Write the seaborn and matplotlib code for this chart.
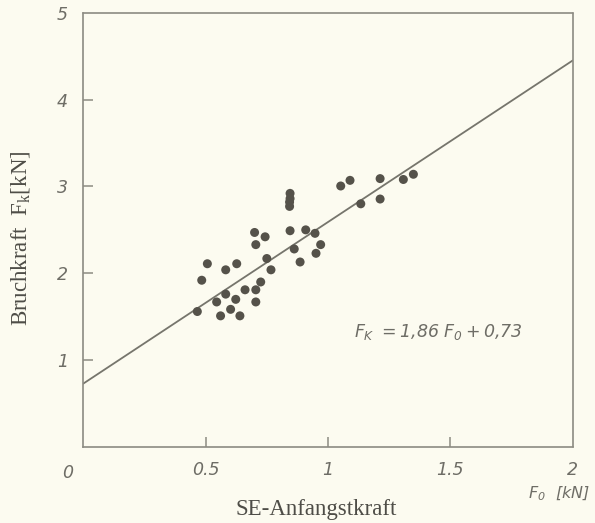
import numpy as np
import pandas as pd
import matplotlib
matplotlib.use("Agg")
import matplotlib.pyplot as plt
import seaborn as sns

# Measured initial force F0 [kN] and breaking force Fk [kN]
f0 = [0.705, 0.750, 0.767, 0.507, 0.627, 0.582, 0.484, 0.725, 0.705, 0.661,
      0.582, 0.545, 0.623, 0.705, 0.466, 0.602, 0.561, 0.640, 0.845, 0.845,
      0.843, 0.843, 0.700, 0.743, 0.845, 0.909, 0.947, 0.862, 0.970, 0.951,
      0.886, 1.052, 1.090, 1.213, 1.308, 1.349, 1.134, 1.213]
fk = [2.33, 2.17, 2.04, 2.11, 2.11, 2.04, 1.92, 1.90, 1.81, 1.81,
      1.76, 1.67, 1.70, 1.67, 1.56, 1.585, 1.51, 1.51, 2.92, 2.86,
      2.82, 2.77, 2.47, 2.42, 2.49, 2.50, 2.46, 2.28, 2.33, 2.23,
      2.13, 3.005, 3.07, 3.09, 3.08, 3.14, 2.80, 2.855]

# Regression F_K = 1,86 F_0 + 0,73
slope = 1.86
intercept = 0.73
fit_x = [0.0, 2.0]

x_ticks = [0.5, 1.0, 1.5, 2.0]
x_tick_labels = ["0.5", "1", "1.5", "2"]
y_ticks = [1, 2, 3, 4, 5]
y_tick_labels = ["1", "2", "3", "4", "5"]

paper = "#fcfbf0"
ink = "#55524a"
frame = "#8c8b82"
grey_text = "#6e6d66"

sns.set_theme(style="white")
plt.rcParams["font.family"] = ["DejaVu Sans"]
plt.rcParams["mathtext.fontset"] = "custom"
plt.rcParams["mathtext.it"] = "DejaVu Sans:italic"
plt.rcParams["mathtext.rm"] = "DejaVu Sans:italic"
plt.rcParams["mathtext.sf"] = "Liberation Serif"
plt.rcParams["mathtext.default"] = "it"

fig = plt.figure(figsize=(5.95, 5.23), dpi=100, facecolor=paper)
ax = fig.add_axes([0.14, 0.1453, 0.8225, 0.8304])
ax.set_facecolor(paper)

pts = pd.DataFrame({"F0": f0, "Fk": fk})
fit = pd.DataFrame({"F0": fit_x, "Fk": [slope * v + intercept for v in fit_x]})

sns.lineplot(data=fit, x="F0", y="Fk", ax=ax, color="#76756c", lw=1.3)
sns.scatterplot(data=pts, x="F0", y="Fk", ax=ax, color=ink, s=42,
                edgecolor="none", zorder=3)

ax.set_xlim(0, 2)
ax.set_ylim(0, 5)

for side in ["top", "right"]:
    ax.spines[side].set_visible(False)
for side in ["left", "bottom"]:
    ax.spines[side].set_color(frame)
    ax.spines[side].set_linewidth(1.2)
# frame lines on top and right
ax.plot([0, 2], [5, 5], color=frame, lw=1.2, clip_on=False, zorder=4)
ax.plot([2, 2], [0, 5], color=frame, lw=1.2, clip_on=False, zorder=4)

ax.set_xticks(x_ticks)
ax.set_xticklabels(x_tick_labels)
ax.set_yticks(y_ticks)
ax.set_yticklabels(y_tick_labels)
ax.tick_params(axis="both", direction="in", length=7, width=1.1, color=frame,
               labelsize=12.5, labelcolor=grey_text, bottom=True, left=True)
ax.tick_params(axis="x", pad=10)
ax.tick_params(axis="y", pad=11)
for lab in ax.get_xticklabels() + ax.get_yticklabels():
    lab.set_fontstyle("italic")
# no tick marks in the corners
for t in ax.xaxis.get_major_ticks()[-1:]:
    t.tick1line.set_visible(False)
for t in ax.yaxis.get_major_ticks()[-1:]:
    t.tick1line.set_visible(False)

ax.set_xlabel("")
ax.set_ylabel("")

ax.text(-0.033, -0.04, "0", transform=ax.transAxes, ha="center", va="top",
        fontsize=12.5, style="italic", color=grey_text)

fig.text(0.034, 0.545, r"Bruchkraft  $\mathsf{F_k[kN]}$", rotation=90,
         ha="center", va="center", family="Liberation Serif", fontsize=16.5,
         color="#4e4d47")
fig.text(0.531, 0.025, "SE-Anfangstkraft", ha="center", va="center",
         family="Liberation Serif", fontsize=16.5, color="#4e4d47")
fig.text(0.94, 0.055, r"$F_0\ \ [kN]$", ha="center", va="center",
         fontsize=11.5, color=grey_text)

ax.text(1.797, 1.32, r"$F_K\ = 1{,}86\ F_0 + 0{,}73$", ha="right",
        va="center", fontsize=12.5, color=grey_text)

fig.savefig("out.png", dpi=100, facecolor=paper)
